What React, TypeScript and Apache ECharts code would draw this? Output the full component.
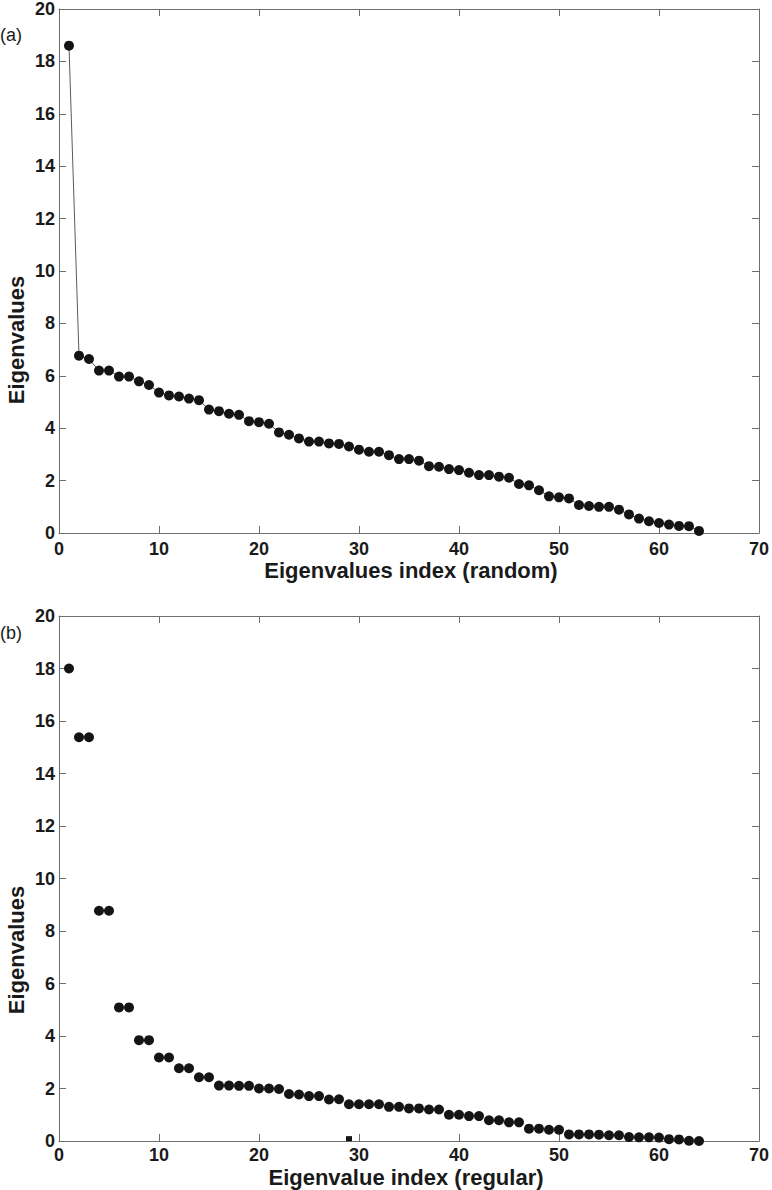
import React, { useEffect, useRef } from "react";
import * as echarts from "echarts";

// Panel (a): eigenvalues for random connectivity (index 1..64)
const valuesRandom: number[] = [
  18.6, 6.77, 6.64, 6.2, 6.2, 5.97, 5.97, 5.79, 5.65, 5.36,
  5.25, 5.21, 5.13, 5.07, 4.71, 4.65, 4.55, 4.51, 4.27, 4.23,
  4.17, 3.84, 3.75, 3.61, 3.49, 3.49, 3.42, 3.4, 3.3, 3.18,
  3.1, 3.1, 2.97, 2.82, 2.82, 2.76, 2.55, 2.53, 2.44, 2.4,
  2.3, 2.21, 2.21, 2.15, 2.11, 1.87, 1.82, 1.63, 1.4, 1.36,
  1.32, 1.07, 1.03, 1.0, 1.0, 0.89, 0.71, 0.55, 0.45, 0.38,
  0.32, 0.27, 0.26, 0.08,
];

// Panel (b): eigenvalues for regular connectivity (index 1..64)
const valuesRegular: number[] = [
  18.0, 15.38, 15.38, 8.77, 8.77, 5.09, 5.09, 3.84, 3.84, 3.18,
  3.18, 2.77, 2.77, 2.43, 2.43, 2.11, 2.11, 2.1, 2.1, 2.0,
  2.0, 1.98, 1.79, 1.77, 1.71, 1.71, 1.58, 1.59, 1.4, 1.4,
  1.4, 1.4, 1.3, 1.3, 1.24, 1.24, 1.2, 1.2, 1.0, 1.0,
  0.95, 0.95, 0.79, 0.79, 0.71, 0.71, 0.47, 0.47, 0.43, 0.43,
  0.25, 0.25, 0.25, 0.24, 0.22, 0.22, 0.15, 0.14, 0.14, 0.13,
  0.07, 0.06, 0.01, 0.0,
];

// small square mark near the axis in panel (b)
const squareMarkRegular: number[][] = [[29, 0.09]];

const xTicks = { min: 0, max: 70, interval: 10 };
const yTicks = { min: 0, max: 20, interval: 2 };

const FONT = "'Liberation Sans', Arial, Helvetica, sans-serif";
const AXIS_COLOR = "#6e6e6e";
const TEXT_COLOR = "#1a1a1a";
const MARK_COLOR = "#141414";

export default function App() {
  const ref = useRef<HTMLDivElement>(null);

  useEffect(() => {
    if (!ref.current) return;
    const chart = echarts.init(ref.current, undefined, { renderer: "svg" });

    const frameAxis = (
      pos: string,
      gridIndex: number,
      isX: boolean,
      showLabels: boolean,
      margin = 4
    ) => ({
      type: "value",
      gridIndex,
      position: pos,
      ...(isX ? xTicks : yTicks),
      axisLine: { show: true, onZero: false, lineStyle: { color: AXIS_COLOR, width: 1 } },
      axisTick: { show: true, inside: true, length: 7, lineStyle: { color: AXIS_COLOR, width: 1 } },
      splitLine: { show: false },
      axisLabel: {
        show: showLabels,
        color: TEXT_COLOR,
        fontFamily: FONT,
        fontWeight: "bold",
        fontSize: 18,
        lineHeight: 18,
        margin,
      },
    });

    const titleStyle = (text: string) => ({
      text,
      fontFamily: FONT,
      fontSize: 22,
      fontWeight: "bold",
      lineHeight: 20,
      fill: TEXT_COLOR,
      align: "center",
      verticalAlign: "middle",
    });

    const option: any = {
      animation: false,
      backgroundColor: "#ffffff",
      grid: [
        { left: 59, top: 8, width: 702, height: 525 },
        { left: 59, top: 616, width: 702, height: 525 },
      ],
      xAxis: [
        frameAxis("bottom", 0, true, true, 7),
        frameAxis("top", 0, true, false),
        frameAxis("bottom", 1, true, true, 5),
        frameAxis("top", 1, true, false),
      ],
      yAxis: [
        frameAxis("left", 0, false, true, 4),
        frameAxis("right", 0, false, false),
        frameAxis("left", 1, false, true, 4),
        frameAxis("right", 1, false, false),
      ],
      series: [
        {
          type: "line",
          xAxisIndex: 0,
          yAxisIndex: 0,
          data: valuesRandom.map((v, i) => [i + 1, v]),
          symbol: "circle",
          symbolSize: 10,
          showAllSymbol: true,
          itemStyle: { color: MARK_COLOR, opacity: 1 },
          lineStyle: { color: "#5a5a5a", width: 1 },
          z: 3,
        },
        {
          type: "scatter",
          xAxisIndex: 2,
          yAxisIndex: 2,
          data: valuesRegular.map((v, i) => [i + 1, v]),
          symbol: "circle",
          symbolSize: 10,
          itemStyle: { color: MARK_COLOR, opacity: 1 },
          z: 3,
        },
        {
          type: "scatter",
          xAxisIndex: 2,
          yAxisIndex: 2,
          data: squareMarkRegular,
          symbol: "rect",
          symbolSize: [6, 5],
          itemStyle: { color: MARK_COLOR, opacity: 1 },
          z: 3,
        },
      ],
      graphic: [
        {
          type: "text",
          left: 0,
          top: 26,
          style: { text: "(a)", fontFamily: FONT, fontSize: 18, fill: TEXT_COLOR },
        },
        {
          type: "text",
          left: 0,
          top: 624,
          style: { text: "(b)", fontFamily: FONT, fontSize: 18, fill: TEXT_COLOR },
        },
        { type: "text", x: 16, y: 340, rotation: Math.PI / 2, style: titleStyle("Eigenvalues") },
        { type: "text", x: 16, y: 950, rotation: Math.PI / 2, style: titleStyle("Eigenvalues") },
        { type: "text", x: 411, y: 570, style: titleStyle("Eigenvalues index (random)") },
        { type: "text", x: 406, y: 1177, style: titleStyle("Eigenvalue index (regular)") },
      ],
    };

    chart.setOption(option);
    return () => chart.dispose();
  }, []);

  return (
    <div
      ref={ref}
      style={{ position: "absolute", left: 0, top: 0, width: 772, height: 1190, background: "#fff" }}
    />
  );
}
